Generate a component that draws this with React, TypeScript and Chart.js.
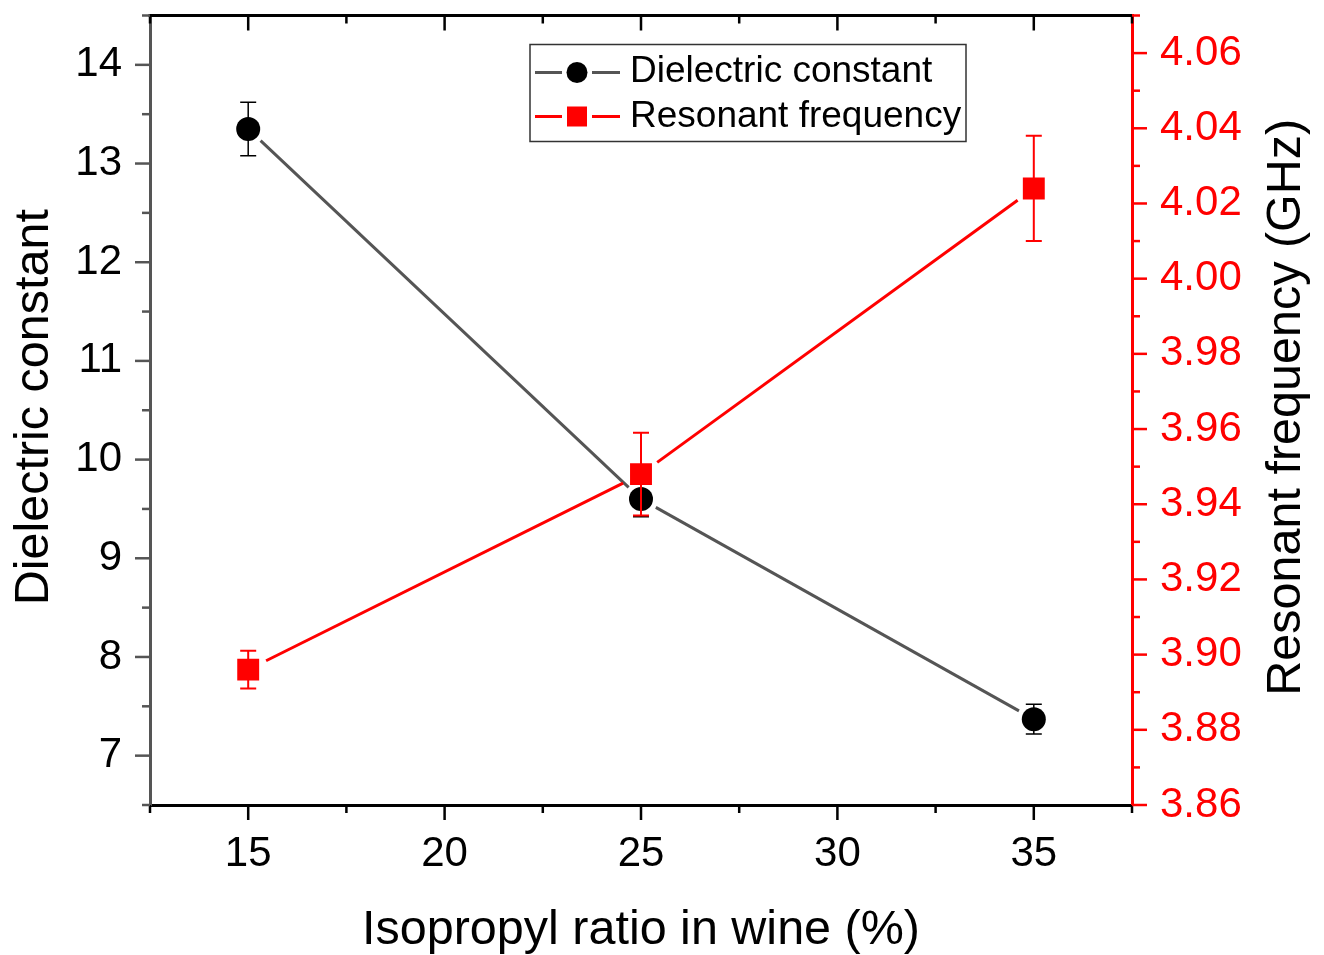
import React, { useEffect, useRef } from "react";
import { Chart, registerables } from "chart.js";

Chart.register(...registerables);

// ---- data ----
const ratios = [15, 25, 35];
const dielectric = [13.35, 9.6, 7.37];
const dielectricErr = [0.27, 0.18, 0.15];
const frequency = [3.896, 3.948, 4.024];
const frequencyErr = [0.005, 0.011, 0.014];

const xTicks = [15, 20, 25, 30, 35];
const xMinorTicks = [12.5, 17.5, 22.5, 27.5, 32.5, 37.5];
const leftTicks = [7, 8, 9, 10, 11, 12, 13, 14];
const leftMinorTicks = [6.5, 7.5, 8.5, 9.5, 10.5, 11.5, 12.5, 13.5, 14.5];
const rightTicks = [3.86, 3.88, 3.9, 3.92, 3.94, 3.96, 3.98, 4.0, 4.02, 4.04, 4.06];
const rightMinorTicks = [3.87, 3.89, 3.91, 3.93, 3.95, 3.97, 3.99, 4.01, 4.03, 4.05, 4.07];

const xTitle = "Isopropyl ratio in wine (%)";
const leftTitle = "Dielectric constant";
const rightTitle = "Resonant frequency (GHz)";
const legendLabels = ["Dielectric constant", "Resonant frequency"];

const FONT = "'Liberation Sans', Arial, sans-serif";
const GRAY = "#555555";
const RED = "#ff0000";

const customPlugin = {
  id: "custom",
  beforeDatasetDraw(chart: any, args: any) {
    const ds: any = chart.data.datasets[args.index];
    const meta = args.meta;
    const ctx = chart.ctx;
    const xs = chart.scales.x;
    const ys = chart.scales[ds.yAxisID];
    ctx.save();
    ctx.strokeStyle = ds.lineColor;
    ctx.lineWidth = 3;
    ctx.lineCap = "butt";
    for (let i = 0; i < meta.data.length - 1; i++) {
      const a = meta.data[i];
      const b = meta.data[i + 1];
      const dx = b.x - a.x;
      const dy = b.y - a.y;
      const len = Math.sqrt(dx * dx + dy * dy);
      const g = ds.gap;
      ctx.beginPath();
      ctx.moveTo(a.x + (dx / len) * g, a.y + (dy / len) * g);
      ctx.lineTo(b.x - (dx / len) * g, b.y - (dy / len) * g);
      ctx.stroke();
    }
    ctx.strokeStyle = ds.errColor;
    ctx.lineWidth = ds.errWidth;
    ds.data.forEach((p: any, i: number) => {
      const px = xs.getPixelForValue(p.x);
      const y1 = ys.getPixelForValue(p.y + ds.errors[i]);
      const y2 = ys.getPixelForValue(p.y - ds.errors[i]);
      ctx.beginPath();
      ctx.moveTo(px, y1);
      ctx.lineTo(px, y2);
      ctx.moveTo(px - 8, y1);
      ctx.lineTo(px + 8, y1);
      ctx.moveTo(px - 8, y2);
      ctx.lineTo(px + 8, y2);
      ctx.stroke();
    });
    ctx.restore();
  },
  afterDraw(chart: any) {
    const ctx = chart.ctx;
    const area = chart.chartArea;
    const xs = chart.scales.x;
    const yl = chart.scales.y;
    const yr = chart.scales.y1;
    ctx.save();
    ctx.lineCap = "butt";
    ctx.strokeStyle = "#000";
    ctx.lineWidth = 3;
    ctx.beginPath();
    ctx.moveTo(area.left - 1.5, area.top);
    ctx.lineTo(area.right, area.top);
    ctx.stroke();

    ctx.lineWidth = 2.5;
    const xt = (vals: number[], len: number) => {
      vals.forEach((v) => {
        const px = xs.getPixelForValue(v);
        ctx.beginPath();
        ctx.moveTo(px, area.bottom);
        ctx.lineTo(px, area.bottom + len);
        ctx.moveTo(px, area.top);
        ctx.lineTo(px, area.top + len);
        ctx.stroke();
      });
    };
    ctx.strokeStyle = "#000";
    xt(xTicks, 15);
    xt(xMinorTicks, 8);
    ctx.strokeStyle = GRAY;
    const lt = (vals: number[], len: number) => {
      vals.forEach((v) => {
        const py = yl.getPixelForValue(v);
        ctx.beginPath();
        ctx.moveTo(area.left, py);
        ctx.lineTo(area.left - len, py);
        ctx.stroke();
      });
    };
    lt(leftTicks, 15);
    lt(leftMinorTicks, 8);
    ctx.strokeStyle = RED;
    const rt = (vals: number[], len: number) => {
      vals.forEach((v) => {
        const py = yr.getPixelForValue(v);
        ctx.beginPath();
        ctx.moveTo(area.right, py);
        ctx.lineTo(area.right + len, py);
        ctx.stroke();
      });
    };
    rt(rightTicks, 15);
    rt(rightMinorTicks, 8);

    // titles
    ctx.fillStyle = "#000";
    ctx.font = `48.5px ${FONT}`;
    ctx.textAlign = "center";
    ctx.textBaseline = "alphabetic";
    const cy = (area.top + area.bottom) / 2 - 3;
    ctx.save();
    ctx.translate(area.left - 102, cy);
    ctx.rotate(-Math.PI / 2);
    ctx.fillText(leftTitle, 0, 0);
    ctx.restore();
    ctx.save();
    ctx.translate(area.right + 168, cy);
    ctx.rotate(-Math.PI / 2);
    ctx.fillText(rightTitle, 0, 0);
    ctx.restore();
    ctx.fillText(xTitle, (area.left + area.right) / 2, area.bottom + 139);

    // legend
    const lx = area.left + 380;
    const ly = area.top + 29;
    ctx.strokeStyle = "#333";
    ctx.lineWidth = 1.5;
    ctx.strokeRect(lx, ly, 436, 97);
    const rows = [
      { y: ly + 28, color: GRAY, fill: "#000", shape: "circle", label: legendLabels[0], base: ly + 37 },
      { y: ly + 72, color: RED, fill: RED, shape: "rect", label: legendLabels[1], base: ly + 82 },
    ];
    rows.forEach((r) => {
      ctx.strokeStyle = r.color;
      ctx.lineWidth = 3;
      ctx.beginPath();
      ctx.moveTo(lx + 5, r.y);
      ctx.lineTo(lx + 32, r.y);
      ctx.moveTo(lx + 62, r.y);
      ctx.lineTo(lx + 90, r.y);
      ctx.stroke();
      ctx.fillStyle = r.fill;
      if (r.shape === "circle") {
        ctx.beginPath();
        ctx.arc(lx + 47, r.y, 10.5, 0, Math.PI * 2);
        ctx.fill();
      } else {
        ctx.fillRect(lx + 37, r.y - 10, 20, 20);
      }
      ctx.fillStyle = "#000";
      ctx.font = `37px ${FONT}`;
      ctx.textAlign = "left";
      ctx.textBaseline = "alphabetic";
      ctx.fillText(r.label, lx + 100, r.base);
    });
    ctx.restore();
  },
};

export default function App() {
  const ref = useRef<HTMLCanvasElement | null>(null);
  useEffect(() => {
    if (!ref.current) return;
    const chart = new Chart(ref.current, {
      type: "scatter",
      data: {
        datasets: [
          {
            label: legendLabels[0],
            data: ratios.map((x, i) => ({ x, y: dielectric[i] })),
            yAxisID: "y",
            order: 1,
            showLine: false,
            pointStyle: "circle",
            pointRadius: 12,
            pointHoverRadius: 12,
            backgroundColor: "#000",
            borderColor: "#000",
            borderWidth: 0,
            errors: dielectricErr,
            lineColor: GRAY,
            errColor: "#000",
            errWidth: 1.5,
            gap: 17,
          } as any,
          {
            label: legendLabels[1],
            data: ratios.map((x, i) => ({ x, y: frequency[i] })),
            yAxisID: "y1",
            order: 0,
            showLine: false,
            pointStyle: "rect",
            pointRadius: 15.5,
            pointHoverRadius: 15.5,
            backgroundColor: RED,
            borderColor: RED,
            borderWidth: 0,
            errors: frequencyErr,
            lineColor: RED,
            errColor: RED,
            errWidth: 2,
            gap: 20,
          } as any,
        ],
      },
      options: {
        animation: false,
        responsive: false,
        devicePixelRatio: 1,
        layout: { padding: { top: 14, left: 0, right: 0, bottom: 0 } },
        plugins: { legend: { display: false }, tooltip: { enabled: false } },
        scales: {
          x: {
            type: "linear",
            position: "bottom",
            min: 12.5,
            max: 37.5,
            afterBuildTicks: (s: any) => {
              s.ticks = xTicks.map((v) => ({ value: v }));
            },
            afterFit: (s: any) => {
              s.height = 150;
              s.paddingLeft = 0;
              s.paddingRight = 0;
            },
            grid: { display: false, drawTicks: false },
            border: { display: true, color: "#000", width: 3 },
            ticks: {
              padding: 24,
              color: "#000",
              font: { family: FONT, size: 42 },
              maxRotation: 0,
              callback: (v: any) => String(v),
            },
          },
          y: {
            type: "linear",
            position: "left",
            min: 6.5,
            max: 14.5,
            afterBuildTicks: (s: any) => {
              s.ticks = leftTicks.map((v) => ({ value: v }));
            },
            afterFit: (s: any) => {
              s.width = 150;
              s.paddingTop = 0;
              s.paddingBottom = 0;
            },
            grid: { display: false, drawTicks: false },
            border: { display: true, color: GRAY, width: 3 },
            ticks: {
              padding: 28,
              color: "#000",
              font: { family: FONT, size: 42 },
              callback: (v: any) => String(v),
            },
          },
          y1: {
            type: "linear",
            position: "right",
            min: 3.86,
            max: 4.07,
            afterBuildTicks: (s: any) => {
              s.ticks = rightTicks.map((v) => ({ value: v }));
            },
            afterFit: (s: any) => {
              s.width = 192;
              s.paddingTop = 0;
              s.paddingBottom = 0;
            },
            grid: { display: false, drawTicks: false },
            border: { display: true, color: RED, width: 3 },
            ticks: {
              padding: 28,
              color: RED,
              font: { family: FONT, size: 42 },
              callback: (v: any) => Number(v).toFixed(2),
            },
          },
        },
      } as any,
      plugins: [customPlugin],
    });
    return () => chart.destroy();
  }, []);

  return (
    <div style={{ position: "absolute", left: 0, top: 0, width: 1324, height: 955, background: "#fff" }}>
      <canvas ref={ref} width={1324} height={955} style={{ display: "block" }} />
    </div>
  );
}
